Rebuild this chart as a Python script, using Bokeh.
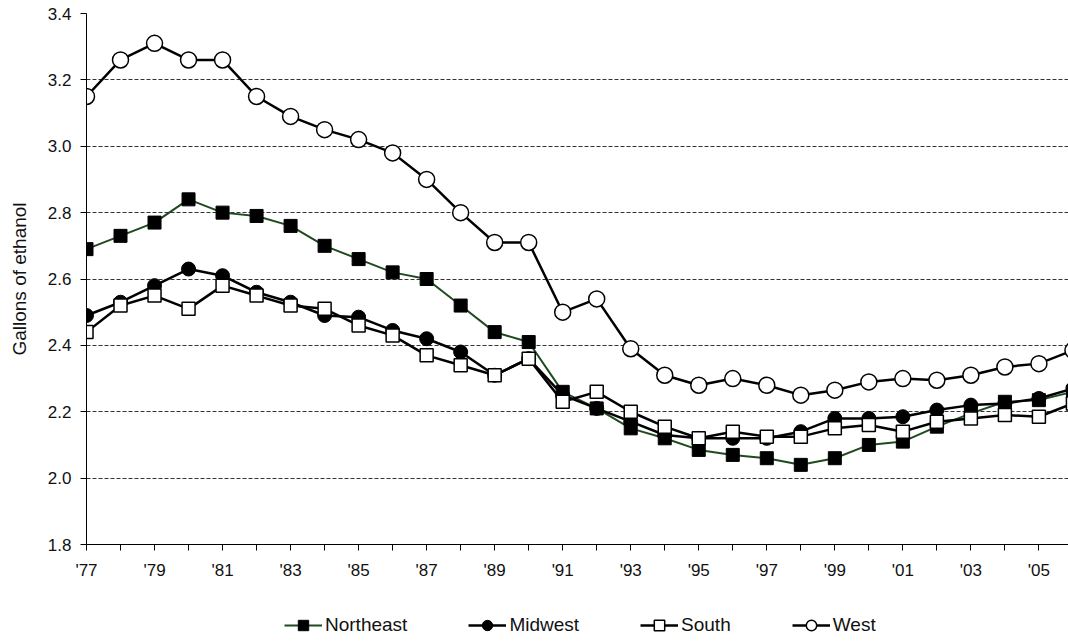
from bokeh.plotting import figure
from bokeh.layouts import column
from bokeh.models import Range1d, FixedTicker, Legend, LegendItem
from bokeh.embed import file_html
from bokeh.resources import INLINE

years = [1977, 1978, 1979, 1980, 1981, 1982, 1983, 1984, 1985, 1986,
         1987, 1988, 1989, 1990, 1991, 1992, 1993, 1994, 1995, 1996,
         1997, 1998, 1999, 2000, 2001, 2002, 2003, 2004, 2005, 2006]

northeast = [2.69, 2.73, 2.77, 2.84, 2.80, 2.79, 2.76, 2.70, 2.66, 2.62,
             2.60, 2.52, 2.44, 2.41, 2.26, 2.21, 2.15, 2.12, 2.085, 2.07,
             2.06, 2.04, 2.06, 2.10, 2.11, 2.155, 2.195, 2.23, 2.235, 2.26]
midwest = [2.49, 2.53, 2.58, 2.63, 2.61, 2.56, 2.53, 2.49, 2.485, 2.445,
           2.42, 2.38, 2.31, 2.36, 2.25, 2.21, 2.17, 2.13, 2.12, 2.12,
           2.12, 2.14, 2.18, 2.18, 2.185, 2.205, 2.22, 2.225, 2.24, 2.27]
south = [2.44, 2.52, 2.55, 2.51, 2.58, 2.55, 2.52, 2.51, 2.46, 2.43,
         2.37, 2.34, 2.31, 2.36, 2.23, 2.26, 2.20, 2.155, 2.12, 2.14,
         2.125, 2.125, 2.15, 2.16, 2.14, 2.17, 2.18, 2.19, 2.185, 2.225]
west = [3.15, 3.26, 3.31, 3.26, 3.26, 3.15, 3.09, 3.05, 3.02, 2.98,
        2.90, 2.80, 2.71, 2.71, 2.50, 2.54, 2.39, 2.31, 2.28, 2.30,
        2.28, 2.25, 2.265, 2.29, 2.30, 2.295, 2.31, 2.335, 2.345, 2.385]

series_names = ["Northeast", "Midwest", "South", "West"]
y_ticks = [1.8, 2.0, 2.2, 2.4, 2.6, 2.8, 3.0, 3.2, 3.4]
x_tick_labels = ["'77", "", "'79", "", "'81", "", "'83", "", "'85", "",
                 "'87", "", "'89", "", "'91", "", "'93", "", "'95", "",
                 "'97", "", "'99", "", "'01", "", "'03", "", "'05", ""]

FONT = "Liberation Sans"
NE_GREEN = "#1f4a1f"

styles = [
    dict(line_color=NE_GREEN, line_width=2, marker="square", size=13, fill="black", lw=1),
    dict(line_color="black", line_width=2.5, marker="circle", size=14, fill="black", lw=1),
    dict(line_color="black", line_width=2.5, marker="square", size=13, fill="white", lw=1.5),
    dict(line_color="black", line_width=2.5, marker="circle", size=16, fill="white", lw=1.5),
]
data = [northeast, midwest, south, west]

p = figure(width=1068, height=600, output_backend="svg", toolbar_location=None,
           x_range=Range1d(1977, 2005.87), y_range=Range1d(1.8, 3.4),
           min_border_left=86, min_border_top=13, min_border_right=0,
           min_border_bottom=56)
p.outline_line_color = None
p.background_fill_color = "white"

p.xaxis.ticker = FixedTicker(ticks=years, minor_ticks=[])
p.xaxis.major_label_overrides = {yr: lab for yr, lab in zip(years, x_tick_labels)}
p.yaxis.ticker = FixedTicker(ticks=y_ticks, minor_ticks=[])
p.yaxis.major_label_overrides = {t: f"{t:.1f}" for t in y_ticks}
for ax in (p.xaxis, p.yaxis):
    ax.axis_line_color = "black"
    ax.axis_line_width = 1
    ax.major_tick_line_color = "black"
    ax.major_tick_in = 0
    ax.major_label_text_font = FONT
    ax.major_label_text_font_size = "17px"
    ax.major_label_text_color = "#111111"
p.xaxis.major_tick_out = 6
p.yaxis.major_tick_out = 6
p.xaxis.major_label_standoff = 10
p.yaxis.major_label_standoff = 9
p.yaxis.axis_label = "Gallons of ethanol"
p.yaxis.axis_label_text_font = FONT
p.yaxis.axis_label_text_font_size = "19px"
p.yaxis.axis_label_text_font_style = "normal"
p.yaxis.axis_label_text_color = "#111111"
p.yaxis.axis_label_standoff = 15

p.xgrid.grid_line_color = None
p.ygrid.ticker = FixedTicker(ticks=y_ticks[1:])
p.ygrid.grid_line_color = "#333333"
p.ygrid.grid_line_dash = "4 2"
p.ygrid.grid_line_width = 1

for vals, st in zip(data, styles):
    p.line(years, vals, line_color=st["line_color"], line_width=st["line_width"])
    p.scatter(years, vals, marker=st["marker"], size=st["size"],
              fill_color=st["fill"], line_color="black", line_width=st["lw"])

# legend strip below the chart (its renderers use the same series,
# kept outside this strip's visible range so only the legend shows)
lg = figure(width=1068, height=43, output_backend="svg", toolbar_location=None,
            x_range=Range1d(1977, 2005.87), y_range=Range1d(0, 1),
            x_axis_location=None, y_axis_location=None,
            min_border_left=0, min_border_right=0, min_border_top=0,
            min_border_bottom=0)
lg.outline_line_color = None
lg.grid.visible = False
items = []
for name, vals, st in zip(series_names, data, styles):
    r1 = lg.line(years, vals, line_color=st["line_color"], line_width=st["line_width"])
    r2 = lg.scatter(years, vals, marker=st["marker"], size=st["size"],
                    fill_color=st["fill"], line_color="black", line_width=st["lw"])
    items.append(LegendItem(label=name, renderers=[r1, r2]))

legend = Legend(items=items, orientation="horizontal", location=(198, 5))
legend.border_line_color = None
legend.background_fill_alpha = 0
legend.padding = 0
legend.margin = 0
legend.spacing = 61
legend.glyph_width = 38
legend.glyph_height = 26
legend.label_standoff = 3
legend.label_text_font = FONT
legend.label_text_font_size = "19px"
legend.label_text_color = "#111111"
legend.label_height = 20
lg.add_layout(legend)

open("out.html", "w").write(file_html(column(p, lg, spacing=0), INLINE))
